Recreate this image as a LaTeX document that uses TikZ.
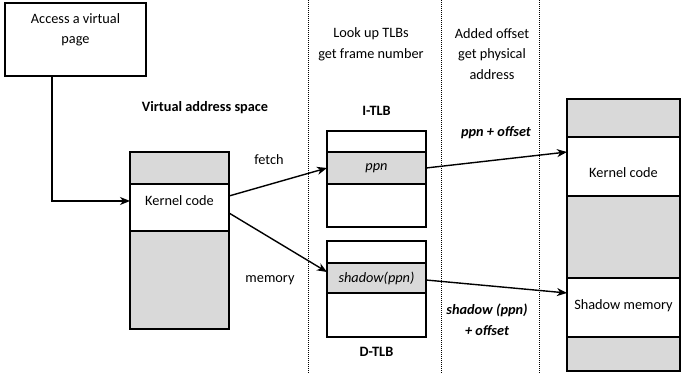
\documentclass[tikz,border=0pt]{standalone}
\usepackage{fontspec}
\setmainfont{Carlito}
\usetikzlibrary{arrows.meta}
\definecolor{segray}{RGB}{217,217,217}
\begin{document}
\begin{tikzpicture}[x=1pt,y=-1pt,
  every node/.style={font=\fontsize{14.3}{20.5}\selectfont, inner sep=0pt, outer sep=0pt},
  box/.style={draw, line width=1.4pt, anchor=north west},
  seg/.style={box, minimum width=#1},
  gseg/.style={box, minimum width=#1, fill=segray},
  lbl/.style={align=center},
  blbl/.style={align=center, font=\fontsize{14.3}{20.5}\selectfont\bfseries},
  bilbl/.style={align=center, font=\fontsize{14.3}{20.5}\selectfont\bfseries\itshape},
  arr/.style={draw, line width=1.4pt, -{Stealth[length=10pt,width=8pt,inset=3pt]}},
  sepline/.style={line width=1pt, dash pattern=on 1pt off 1pt}
]
\useasboundingbox (0,0) rectangle (681,374);

% dotted separators
\coordinate (s1t) at (308,0); \coordinate (s1b) at (308,374);
\coordinate (s2t) at (441,0); \coordinate (s2b) at (441,374);
\coordinate (s3t) at (539,0); \coordinate (s3b) at (539,374);
\draw[sepline] (s1t) -- (s1b);
\draw[sepline] (s2t) -- (s2b);
\draw[sepline] (s3t) -- (s3b);

% access box
\node[seg=141, minimum height=73] (access) at (5,3) {};
\node[lbl] (accesstxt) at (75.5,30) {Access a virtual\\page};

% virtual address space
\node[gseg=99, minimum height=32] (v1) at (130,152) {};
\node[seg=99, minimum height=47, fill=white] (vk) at (130,184) {};
\node[gseg=99, minimum height=98] (v3) at (130,231) {};
\node[lbl] (vktxt) at (179.5,201) {Kernel code};
\node[blbl] (vastxt) at (205,108) {Virtual address space};

% I-TLB
\node[seg=99, minimum height=21] (i1) at (327,131) {};
\node[gseg=99, minimum height=32] (i2) at (327,152) {\itshape ppn};
\node[seg=99, minimum height=43] (i3) at (327,184) {};
\node[blbl] (itlb) at (376.5,111) {I-TLB};

% D-TLB
\node[seg=99, minimum height=22] (d1) at (327,241) {};
\node[gseg=99, minimum height=30] (d2) at (327,263) {\itshape shadow(ppn)};
\node[seg=99, minimum height=44] (d3) at (327,293) {};
\node[blbl] (dtlb) at (376.5,352) {D-TLB};

% physical memory
\node[gseg=113, minimum height=38] (p1) at (567,99) {};
\node[seg=113, minimum height=59] (p2) at (567,137) {};
\node[gseg=113, minimum height=82] (p3) at (567,196) {};
\node[seg=113, minimum height=59] (p4) at (567,278) {};
\node[gseg=113, minimum height=34] (p5) at (567,337) {};
\node[lbl] (p2txt) at (623.5,173) {Kernel code};
\node[lbl] (p4txt) at (623.5,306) {Shadow memory};

% column headers
\node[lbl] (hdr1) at (371,44.5) {Look up TLBs\\get frame number};
\node[lbl] (hdr2) at (492,54) {Added offset\\get physical\\address};

% edge labels
\node[lbl] (fetchtxt) at (269,160) {fetch};
\node[lbl] (memtxt) at (270,280) {memory};
\node[bilbl] (ppnoff) at (496,133) {ppn + offset};
\node[bilbl] (shoff) at (487,320) {shadow (ppn)\\+ offset};

% connectors
\draw[arr] ([xshift=47pt]access.south west) |- ([yshift=6.5pt]vk.west);
\draw[arr] ([yshift=11.5pt]vk.east) -- (i2.west);
\draw[arr] ([yshift=-5.5pt]vk.east) -- ([yshift=6pt]d2.west);
\draw[arr] (i2.east) -- ([yshift=14.5pt]p2.west);
\draw[arr] ([yshift=-2pt]d2.east) -- ([yshift=14.5pt]p4.west);
\end{tikzpicture}
\end{document}
